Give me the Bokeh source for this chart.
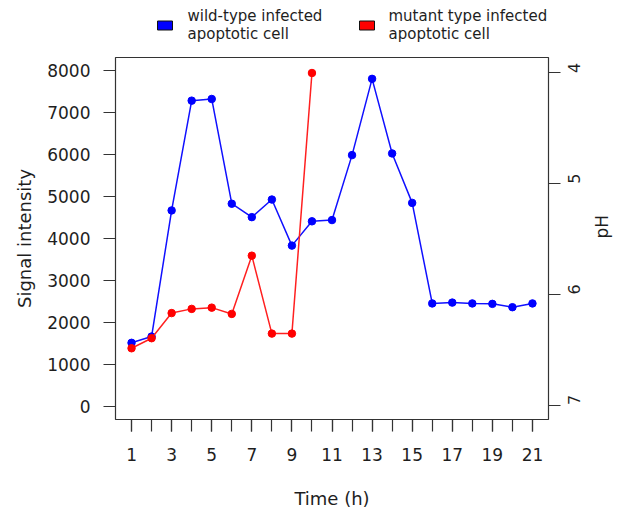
import math
from bokeh.plotting import figure
from bokeh.layouts import column
from bokeh.models import Range1d, LinearAxis, FixedTicker, ColumnDataSource
from bokeh.core.properties import value
from bokeh.embed import file_html
from bokeh.resources import INLINE

# ---- data ----
time_wt = list(range(1, 22))
signal_wt = [1510, 1660, 4670, 7290, 7330, 4830, 4510, 4930, 3830, 4410, 4440,
             5990, 7810, 6030, 4850, 2450, 2470, 2450, 2440, 2360, 2450]
time_mut = list(range(1, 11))
signal_mut = [1380, 1620, 2220, 2320, 2350, 2200, 3590, 1730, 1730, 7950]

x_ticks_all = list(range(1, 22))
x_ticks_labeled = list(range(1, 22, 2))
y_ticks = list(range(0, 8001, 1000))
ph_ticks = [4, 5, 6, 7]

series_labels = ["wild-type infected\n apoptotic cell",
                 "mutant type infected\n apoptotic cell"]
series_colors = ["#0000ff", "#ff0000"]

FONT = "DejaVu Sans"
TXT = "#1e1e1e"
LEG_H = 50

# ---- legend strip (top); its frame is aligned with the main frame ----
leg = figure(width=624, height=LEG_H, x_range=Range1d(115, 548),
             y_range=Range1d(LEG_H, 0), toolbar_location=None,
             output_backend="svg", x_axis_type=None, y_axis_type=None,
             min_border=0)
leg.grid.visible = False
leg.outline_line_color = None
leg_src = ColumnDataSource(dict(sx=[164.5, 366.5], tx=[187, 388],
                                sy=[25, 25], ty=[6, 6],
                                label=series_labels, color=series_colors))
leg.rect(x="sx", y="sy", width=15, height=9, source=leg_src,
         fill_color="color", line_color="#111111", line_width=1)
leg.text(x="tx", y="ty", text="label", source=leg_src,
         text_font=value(FONT), text_font_size="15px", text_color=TXT,
         text_baseline="top", text_align="left", text_line_height=1.05)

# ---- main plot ----
p = figure(width=624, height=513 - LEG_H, x_range=Range1d(0.2, 21.8),
           y_range=Range1d(-320, 8320), toolbar_location=None,
           output_backend="svg", min_border_left=115, min_border_right=75,
           min_border_top=57 - LEG_H, min_border_bottom=94)
p.grid.visible = False
p.outline_line_color = "#333333"
p.outline_line_width = 1.2

p.extra_y_ranges = {"ph": Range1d(7.13, 3.86)}

xa = p.xaxis[0]
xa.ticker = FixedTicker(ticks=x_ticks_labeled, minor_ticks=x_ticks_all)
xa.axis_label = "Time (h)"
ya = p.yaxis[0]
ya.ticker = FixedTicker(ticks=y_ticks)
ya.axis_label = "Signal intensity"
ra = LinearAxis(y_range_name="ph", ticker=FixedTicker(ticks=ph_ticks),
                axis_label="pH")
p.add_layout(ra, "right")

for ax in (xa, ya, ra):
    ax.axis_line_color = None
    ax.major_tick_line_color = "#333333"
    ax.minor_tick_line_color = "#333333"
    ax.major_tick_line_width = 1.2
    ax.minor_tick_line_width = 1.2
    ax.major_tick_in = 0
    ax.minor_tick_in = 0
    ax.major_tick_out = 12
    ax.minor_tick_out = 12
    ax.major_label_text_font = FONT
    ax.major_label_text_font_size = "17px"
    ax.major_label_text_color = TXT
    ax.axis_label_text_font = FONT
    ax.axis_label_text_font_size = "18px"
    ax.axis_label_text_font_style = "normal"
    ax.axis_label_text_color = TXT

ya.minor_tick_out = 0
ra.minor_tick_out = 0
ra.major_tick_out = 12
ra.major_label_text_font_size = "16px"
ra.axis_label_text_font_size = "17px"
xa.major_label_standoff = 16
xa.axis_label_standoff = 24
ya.major_label_standoff = 13
ya.axis_label_standoff = 9
ra.major_label_standoff = 14
ra.axis_label_standoff = 12
ra.major_label_orientation = math.pi / 2
ra.axis_label_orientation = math.pi / 2

src_wt = ColumnDataSource(dict(x=time_wt, y=signal_wt))
src_mut = ColumnDataSource(dict(x=time_mut, y=signal_mut))
p.line("x", "y", source=src_wt, line_color="#1010ff", line_width=1.5)
p.scatter("x", "y", source=src_wt, size=7.5, fill_color=series_colors[0],
          line_color=series_colors[0])
p.line("x", "y", source=src_mut, line_color="#ff2020", line_width=1.5)
p.scatter("x", "y", source=src_mut, size=7.5, fill_color=series_colors[1],
          line_color=series_colors[1])

layout = column(leg, p, spacing=0)
open("out.html", "w").write(file_html(layout, INLINE))
